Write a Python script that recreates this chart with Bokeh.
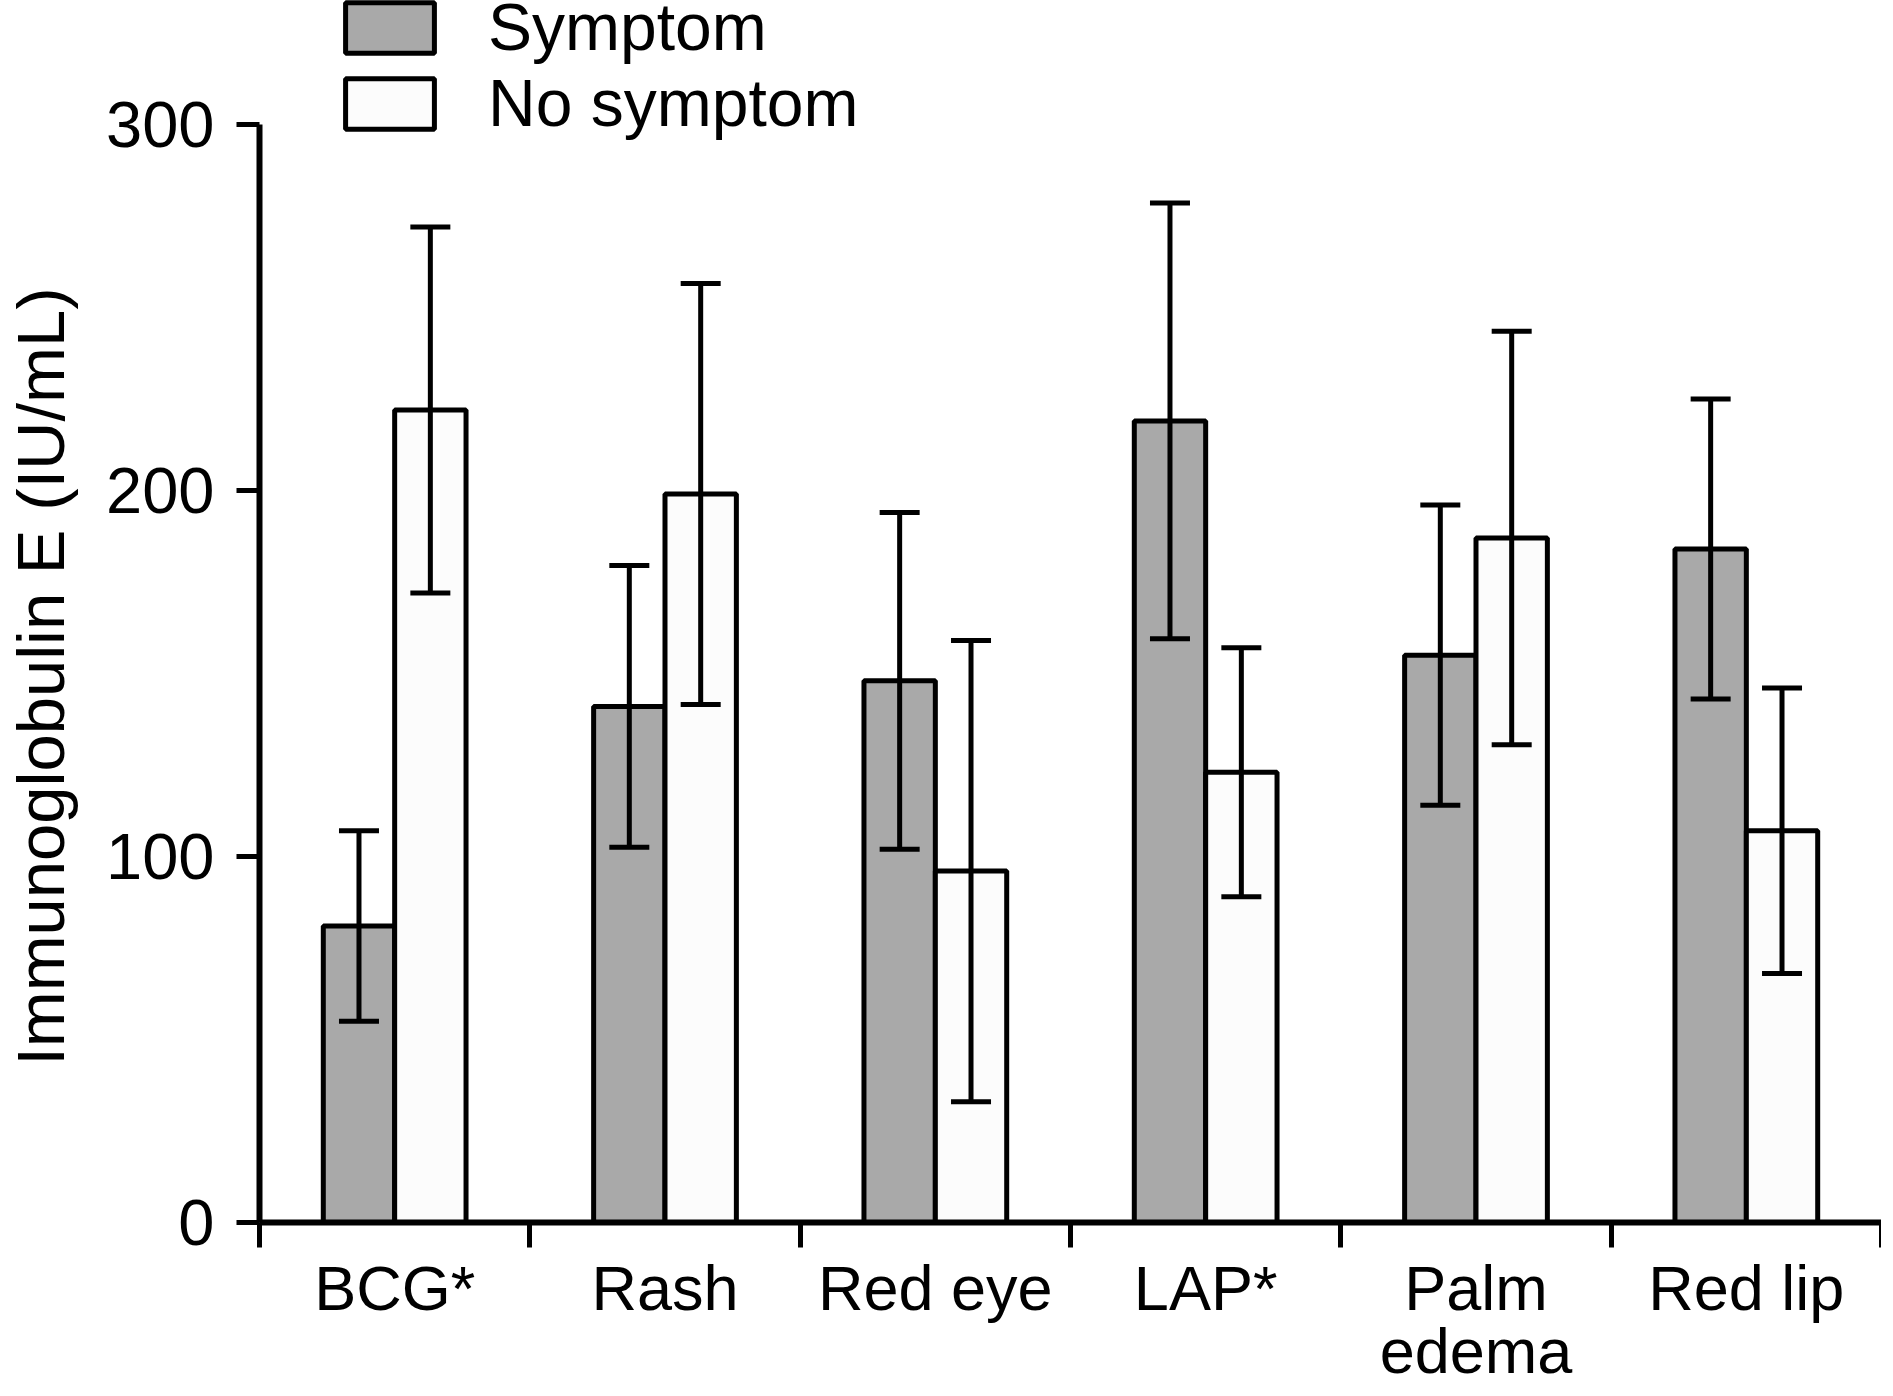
from bokeh.plotting import figure
from bokeh.models import (ColumnDataSource, Range1d, FixedTicker, Whisker, TeeHead,
                          Legend, LegendItem)
from bokeh.embed import file_html
from bokeh.resources import INLINE

categories = ["BCG*", "Rash", "Red eye", "LAP*", "Palm\nedema", "Red lip"]
symptom_mean = [81, 141, 148, 219, 155, 184]
symptom_err = [26, 38.5, 46, 59.5, 41, 41]
nosymptom_mean = [222, 199, 96, 123, 187, 107]
nosymptom_err = [50, 57.5, 63, 34, 56.5, 39]
y_ticks = [0, 100, 200, 300]
y_max = 300
y_title = "Immunoglobulin E (IU/mL)"

FONT = "Liberation Sans"
BAR_W = 0.264

# layout (pixels)
W, H = 1881, 1388
LEFT, RIGHT, BOTTOM = 253, 0, 165
FRAME_H = H - BOTTOM
AXIS_TOP_PX = 124          # where the 300 tick sits, from the canvas top
y_end = y_max + AXIS_TOP_PX * y_max / (FRAME_H - AXIS_TOP_PX)

centers = [i + 0.5 for i in range(len(categories))]
src_s = ColumnDataSource(dict(
    x=[c - BAR_W / 2 for c in centers], top=symptom_mean,
    upper=[m + e for m, e in zip(symptom_mean, symptom_err)],
    lower=[m - e for m, e in zip(symptom_mean, symptom_err)]))
src_n = ColumnDataSource(dict(
    x=[c + BAR_W / 2 for c in centers], top=nosymptom_mean,
    upper=[m + e for m, e in zip(nosymptom_mean, nosymptom_err)],
    lower=[m - e for m, e in zip(nosymptom_mean, nosymptom_err)]))

p = figure(width=W, height=H, output_backend="svg", toolbar_location=None,
           x_range=Range1d(0, len(categories)), y_range=Range1d(0, y_end),
           min_border_left=LEFT, min_border_right=RIGHT, min_border_top=0,
           min_border_bottom=BOTTOM)
p.outline_line_color = None
p.grid.visible = False
p.background_fill_color = "white"

r_s = p.vbar(x="x", top="top", width=BAR_W, bottom=0, source=src_s,
             fill_color="#a9a9a9", line_color="black", line_width=5)
r_n = p.vbar(x="x", top="top", width=BAR_W, bottom=0, source=src_n,
             fill_color="#fcfcfc", line_color="black", line_width=5)

for src in (src_s, src_n):
    w = Whisker(source=src, base="x", upper="upper", lower="lower",
                line_width=5, line_color="black", level="overlay",
                upper_head=TeeHead(size=40, line_width=5, line_color="black"),
                lower_head=TeeHead(size=40, line_width=5, line_color="black"))
    p.add_layout(w)

# x axis
xa = p.xaxis[0]
xa.ticker = FixedTicker(ticks=centers, minor_ticks=list(range(len(categories) + 1)))
xa.major_label_overrides = {c: lab for c, lab in zip(centers, categories)}
xa.major_tick_line_color = None
xa.major_tick_out = 0
xa.major_tick_in = 0
xa.minor_tick_line_color = "black"
xa.minor_tick_line_width = 5
xa.minor_tick_out = 25
xa.minor_tick_in = 0
xa.axis_line_width = 6
xa.axis_line_color = "black"
xa.major_label_text_font = FONT
xa.major_label_text_font_size = "63px"
xa.major_label_text_line_height = 0.9
xa.major_label_text_color = "black"
xa.major_label_standoff = 5

# y axis
ya = p.yaxis[0]
ya.ticker = FixedTicker(ticks=y_ticks)
ya.bounds = (0, y_max)
ya.minor_tick_line_color = None
ya.major_tick_out = 23
ya.major_tick_in = 0
ya.major_tick_line_width = 5
ya.axis_line_width = 6
ya.axis_line_color = "black"
ya.major_label_text_font = FONT
ya.major_label_text_font_size = "65px"
ya.major_label_text_color = "black"
ya.major_label_standoff = 22
# non-breaking spaces shift the title so it centres on the 0-300 span
ya.axis_label = y_title + "\u00a0" * 7
ya.axis_label_text_font = FONT
ya.axis_label_text_font_size = "67px"
ya.axis_label_text_font_style = "normal"
ya.axis_label_text_color = "black"
ya.axis_label_standoff = 25

legend = Legend(items=[LegendItem(label="Symptom", renderers=[r_s]),
                       LegendItem(label="No symptom", renderers=[r_n])],
                location=(75, FRAME_H - 142), orientation="vertical",
                glyph_width=111, glyph_height=63, label_text_font=FONT,
                label_text_font_size="66px", label_text_color="black",
                label_standoff=43, spacing=0, padding=0, margin=0,
                border_line_color=None, background_fill_alpha=0)
p.add_layout(legend)

open("out.html", "w").write(file_html(p, INLINE))
